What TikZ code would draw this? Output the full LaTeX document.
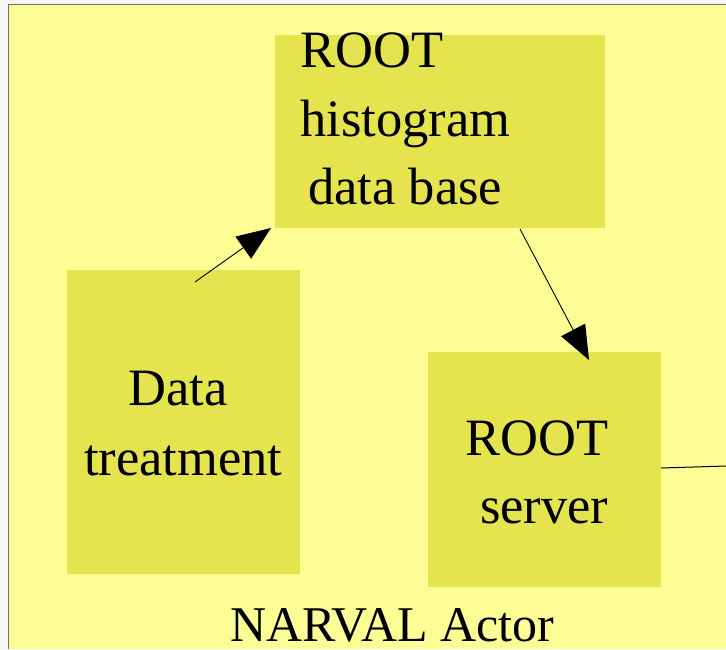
\documentclass[tikz,border=0pt]{standalone}
\usepackage{fontspec}
\setmainfont{Liberation Serif}
\usetikzlibrary{arrows.meta}
\definecolor{bgyel}{HTML}{FDFD96}
\definecolor{boxyel}{HTML}{E6E44E}
\definecolor{framegray}{HTML}{707070}
\begin{document}
\begin{tikzpicture}[x=1pt,y=-1pt,
  blk/.style={fill=boxyel,draw=none},
  lbl/.style={anchor=base west,inner sep=0pt,font=\fontsize{52.5}{60}\selectfont},
  arr/.style={line width=0.9pt,-{Triangle[length=34pt,width=27pt]}}]
\useasboundingbox (0,0) rectangle (726,649);
\fill[white!93!gray] (0,0) rectangle (726,649);
\fill[bgyel] (8.5,4.5) rectangle (726,649);
\draw[framegray,line width=1.2pt] (8.5,649) -- (8.5,4.5) -- (726,4.5);
% boxes
\node[blk,minimum width=330pt,minimum height=193pt,inner sep=0pt] (db) at (440,131.5) {};
\node[blk,minimum width=233pt,minimum height=304pt,inner sep=0pt] (dt) at (183.5,422) {};
\node[blk,minimum width=233pt,minimum height=235pt,inner sep=0pt] (srv) at (544.5,469.5) {};
% texts
\node[lbl] (t1) at (300,67) {ROOT};
\node[lbl] (t2) at (300,136) {histogram};
\node[lbl] (t3) at (308,204) {data base};
\node[lbl] (t4) at (128,405) {Data};
\node[lbl] (t5) at (84,475) {treatment};
\node[lbl] (t6) at (465,455) {ROOT};
\node[lbl] (t7) at (480,523) {server};
\node[lbl,font=\fontsize{50}{60}\selectfont] (t8) at (230,641) {NARVAL Actor};
% connectors
\coordinate (a1s) at (195,282);
\coordinate (a1e) at (271,228);
\coordinate (a2s) at (520,229);
\coordinate (a2e) at (589,360);
\coordinate (l3s) at (661,468);
\coordinate (l3e) at (726,466);
\draw[arr] (a1s) -- (a1e);
\draw[arr] (a2s) -- (a2e);
\draw[line width=1pt] (l3s) -- (l3e);
\end{tikzpicture}
\end{document}
